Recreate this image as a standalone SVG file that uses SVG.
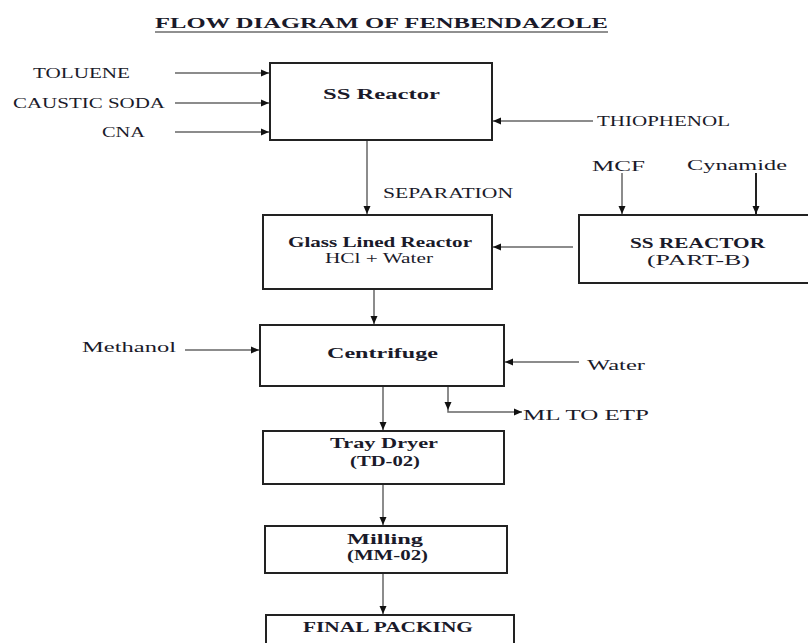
<svg xmlns="http://www.w3.org/2000/svg" width="808" height="643" viewBox="0 0 808 643">
<style>
text{font-family:"Liberation Serif","Times New Roman",serif;fill:#1a1a2a;font-size:14px}
.b{font-weight:bold}
.box{fill:#fff;stroke:#222;stroke-width:2}
.ln{stroke:#666;stroke-width:1.5;fill:none}
.lk{stroke:#222;stroke-width:2;fill:none}
</style>
<defs>
<marker id="ah" markerUnits="userSpaceOnUse" markerWidth="9" markerHeight="8" refX="8" refY="4" orient="auto">
<path d="M0,0.5 L8,4 L0,7.5 Z" fill="#111"/>
</marker>
</defs>
<rect width="808" height="643" fill="#fff"/>
<g id="title">
<text class="b" x="155" y="28" font-size="15" textLength="453" lengthAdjust="spacingAndGlyphs">FLOW DIAGRAM OF FENBENDAZOLE</text>
<line x1="155" y1="32" x2="608" y2="32" stroke="#222" stroke-width="1.2"/>
</g>
<g id="connectors">
<line class="ln" x1="175" y1="73" x2="269" y2="73" marker-end="url(#ah)"/>
<line class="ln" x1="175" y1="103" x2="269" y2="103" marker-end="url(#ah)"/>
<line class="ln" x1="175" y1="132" x2="269" y2="132" marker-end="url(#ah)"/>
<line class="ln" x1="593" y1="121" x2="493" y2="121" marker-end="url(#ah)"/>
<line class="ln" x1="367" y1="141" x2="367" y2="214" marker-end="url(#ah)"/>
<line class="ln" x1="573" y1="247" x2="493" y2="247" marker-end="url(#ah)"/>
<line class="ln" x1="622" y1="173" x2="622" y2="214" marker-end="url(#ah)"/>
<line class="lk" x1="756" y1="173" x2="756" y2="214" marker-end="url(#ah)"/>
<line class="ln" x1="374" y1="290" x2="374" y2="324" marker-end="url(#ah)"/>
<line class="ln" x1="185" y1="350" x2="259" y2="350" marker-end="url(#ah)"/>
<line class="ln" x1="579" y1="362" x2="505" y2="362" marker-end="url(#ah)"/>
<line class="ln" x1="383" y1="387" x2="383" y2="430" marker-end="url(#ah)"/>
<line class="ln" x1="448" y1="387" x2="448" y2="410" marker-end="url(#ah)"/>
<polyline class="ln" points="448,410 448,412 522,412" marker-end="url(#ah)"/>
<line class="ln" x1="383" y1="485" x2="383" y2="525" marker-end="url(#ah)"/>
<line class="ln" x1="383" y1="574" x2="383" y2="614" marker-end="url(#ah)"/>
</g>
<g id="inputs">
<text x="33" y="78" textLength="97" lengthAdjust="spacingAndGlyphs">TOLUENE</text>
<text x="13" y="108" textLength="152" lengthAdjust="spacingAndGlyphs">CAUSTIC SODA</text>
<text x="102" y="137" textLength="43" lengthAdjust="spacingAndGlyphs">CNA</text>
<text x="597" y="126" textLength="133" lengthAdjust="spacingAndGlyphs">THIOPHENOL</text>
<text x="383" y="198" textLength="130" lengthAdjust="spacingAndGlyphs">SEPARATION</text>
<text x="592" y="171" font-size="15" textLength="53" lengthAdjust="spacingAndGlyphs">MCF</text>
<text x="687" y="170" font-size="15" textLength="100" lengthAdjust="spacingAndGlyphs">Cynamide</text>
<text x="82" y="352" font-size="15" textLength="94" lengthAdjust="spacingAndGlyphs">Methanol</text>
<text x="587" y="370" font-size="15" textLength="58" lengthAdjust="spacingAndGlyphs">Water</text>
<text x="523" y="420" font-size="15" textLength="126" lengthAdjust="spacingAndGlyphs">ML TO ETP</text>
</g>
<g id="ss-reactor">
<rect class="box" x="270" y="63" width="222" height="77"/>
<text class="b" x="323" y="99" font-size="16" textLength="117" lengthAdjust="spacingAndGlyphs">SS Reactor</text>
</g>
<g id="glass-lined-reactor">
<rect class="box" x="263" y="215" width="229" height="74"/>
<text class="b" x="288" y="247" textLength="184" lengthAdjust="spacingAndGlyphs">Glass Lined Reactor</text>
<text x="325" y="263" textLength="108" lengthAdjust="spacingAndGlyphs">HCl + Water</text>
</g>
<g id="ss-reactor-part-b">
<rect class="box" x="579" y="215" width="240" height="68"/>
<text class="b" x="630" y="248" textLength="135" lengthAdjust="spacingAndGlyphs">SS REACTOR</text>
<text x="647" y="265" textLength="103" lengthAdjust="spacingAndGlyphs">(PART-B)</text>
</g>
<g id="centrifuge">
<rect class="box" x="260" y="325" width="244" height="61"/>
<text class="b" x="327" y="358" font-size="15" textLength="111" lengthAdjust="spacingAndGlyphs">Centrifuge</text>
</g>
<g id="tray-dryer">
<rect class="box" x="263" y="431" width="241" height="53"/>
<text class="b" x="330" y="448" textLength="108" lengthAdjust="spacingAndGlyphs">Tray Dryer</text>
<text class="b" x="350" y="466" textLength="70" lengthAdjust="spacingAndGlyphs">(TD-02)</text>
</g>
<g id="milling">
<rect class="box" x="265" y="526" width="242" height="47"/>
<text class="b" x="347" y="544" textLength="76" lengthAdjust="spacingAndGlyphs">Milling</text>
<text class="b" x="347" y="560" textLength="81" lengthAdjust="spacingAndGlyphs">(MM-02)</text>
</g>
<g id="final-packing">
<rect class="box" x="266" y="615" width="248" height="40"/>
<text class="b" x="303" y="632" textLength="170" lengthAdjust="spacingAndGlyphs">FINAL PACKING</text>
</g>
</svg>
